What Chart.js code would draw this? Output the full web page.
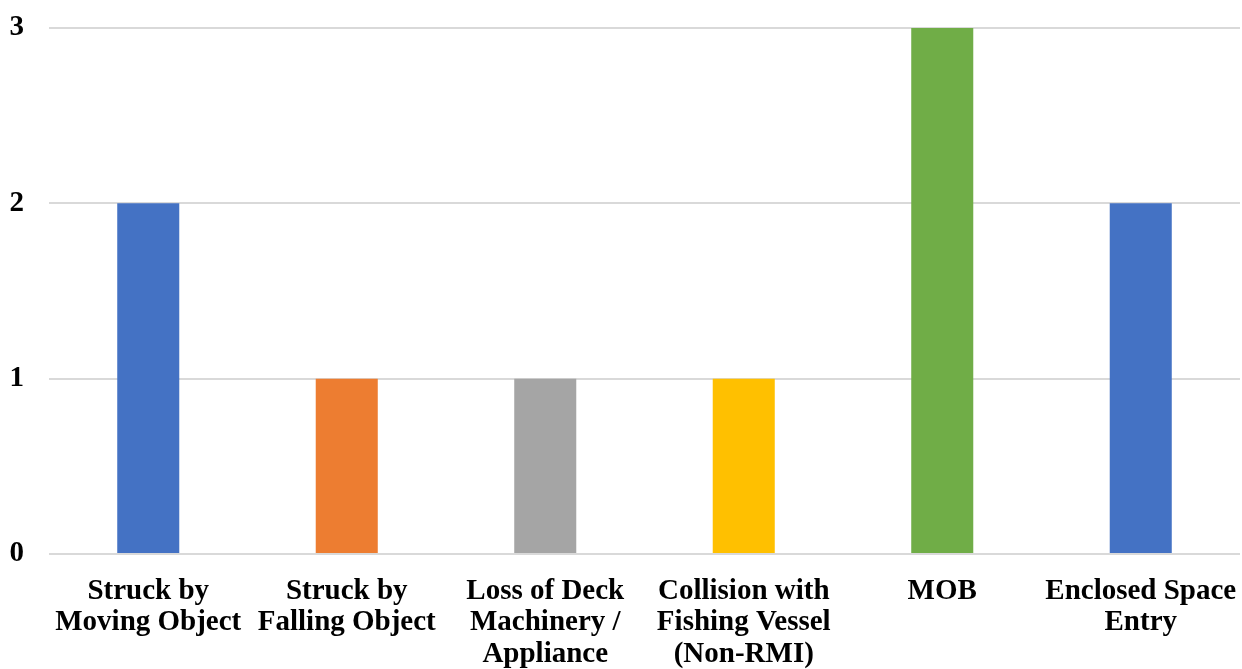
<!DOCTYPE html>
<html>
<head>
<meta charset="utf-8">
<script src="https://cdn.jsdelivr.net/npm/chart.js@4/dist/chart.umd.min.js"></script>
<style>
  html, body { margin: 0; padding: 0; background: #fff; }
  #wrap { width: 1242px; height: 669px; }
</style>
</head>
<body>
<div id="wrap"><canvas id="incidents"></canvas></div>
<script>
// incident types and counts
const categories = [
    ['Struck by', 'Moving Object'],
    ['Struck by', 'Falling Object'],
    ['Loss of Deck', 'Machinery /', 'Appliance'],
    ['Collision with', 'Fishing Vessel', '(Non-RMI)'],
    ['MOB'],
    ['Enclosed Space', 'Entry']
];
const counts = [2, 1, 1, 1, 3, 2];
const barColors = ['#4472C4', '#ED7D31', '#A5A5A5', '#FFC000', '#70AD47', '#4472C4'];
const yTicks = [0, 1, 2, 3];

const labelFont = { family: '"Liberation Serif", "Times New Roman", serif', size: 29, weight: 'bold', lineHeight: 1.08 };

const canvas = document.getElementById('incidents');
new Chart(canvas, {
    type: 'bar',
    data: {
        labels: categories,
        datasets: [{
            data: counts,
            backgroundColor: barColors,
            borderWidth: 0,
            categoryPercentage: 1,
            barPercentage: 0.3125
        }]
    },
    options: {
        responsive: true,
        maintainAspectRatio: false,
        animation: false,
        layout: { padding: { top: 28, right: 2, bottom: 0, left: 0 } },
        plugins: {
            legend: { display: false },
            tooltip: { enabled: false }
        },
        scales: {
            x: {
                grid: { display: false },
                border: { display: false },
                ticks: {
                    color: '#000',
                    font: labelFont,
                    padding: 14,
                    maxRotation: 0,
                    autoSkip: false
                },
                afterFit: function(scale) {
                    // labels may hang over the edges, keep the plot wide
                    scale.height = 115;
                    scale.paddingLeft = 0;
                    scale.paddingRight = 0;
                }
            },
            y: {
                min: 0,
                max: 3,
                afterBuildTicks: function(scale) {
                    scale.ticks = yTicks.map(v => ({ value: v }));
                },
                grid: { color: '#d9d9d9', lineWidth: 2, drawTicks: false },
                border: { display: false },
                ticks: {
                    color: '#000',
                    font: labelFont,
                    padding: 25
                },
                afterFit: function(scale) {
                    scale.width = 49;
                    scale.paddingTop = 0;
                    scale.paddingBottom = 0;
                }
            }
        }
    }
});
</script>
</body>
</html>
